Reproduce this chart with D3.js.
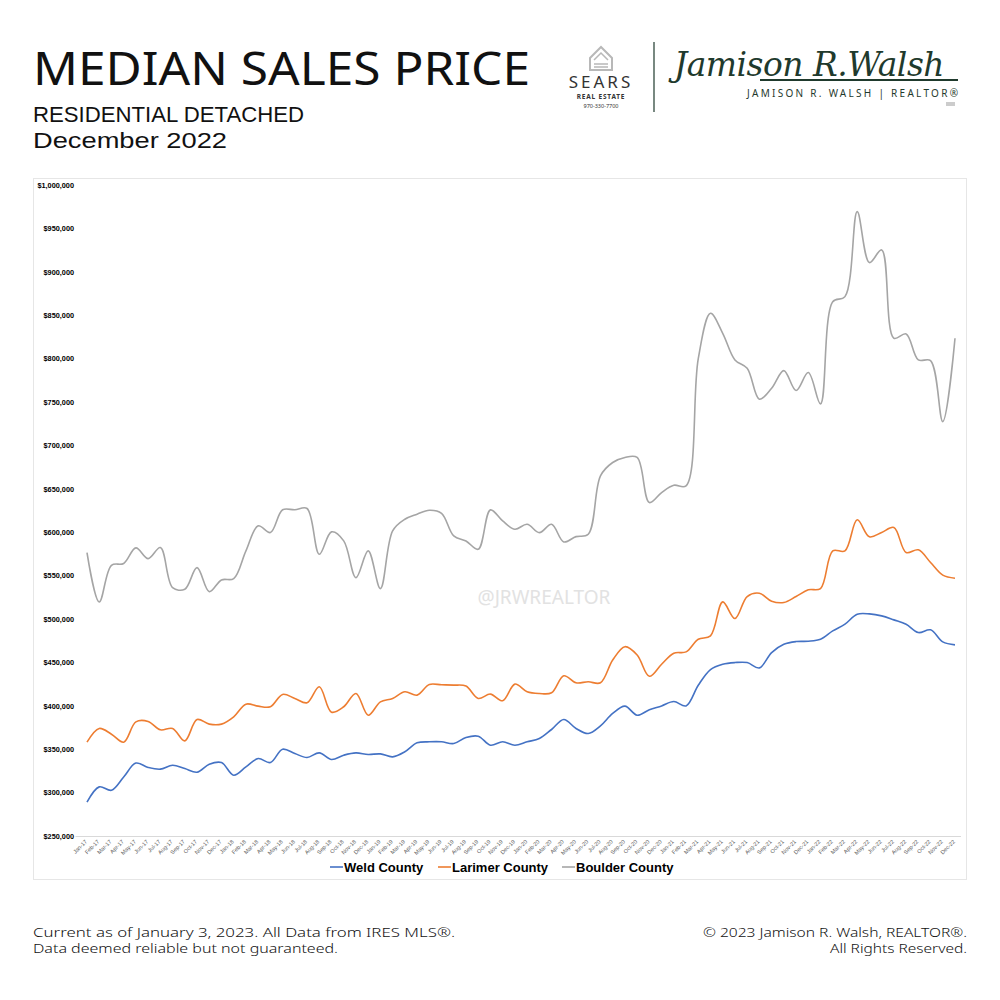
<!DOCTYPE html>
<html>
<head>
<meta charset="utf-8">
<script src="https://cdn.jsdelivr.net/npm/d3@7/dist/d3.min.js"></script>
<style>
  html, body { margin: 0; padding: 0; background: #fff; }
  svg { display: block; }
</style>
</head>
<body>
<svg id="chart" width="1000" height="1000"></svg>
<script>
// ---------------- DATA ----------------
const monthNames = ["Jan","Feb","Mar","Apr","May","Jun","Jul","Aug","Sep","Oct","Nov","Dec"];
const years = ["17","18","19","20","21","22"];
const months = years.flatMap(y => monthNames.map(m => m + "-" + y));

const weld = [
  289, 306.6, 302.7, 318, 334, 329, 327, 331.5, 327.7, 323.5, 332.7, 334.6,
  320, 329.6, 339.2, 334.6, 350, 345, 340.4, 345.8, 338.1, 343.1, 345.8, 343.9,
  344.6, 341.2, 347, 357.3, 358.5, 358.5, 356.5, 363.5, 365, 354.6, 358.5, 354.6,
  358.5, 362.3, 372.7, 384.2, 373.9, 368.1, 376.9, 391.2, 399.6, 389.2, 395.5, 399.9,
  404.9, 399.9, 423.7, 441.8, 447.9, 449.8, 449.8, 443.7, 461.3, 470.9, 474, 474.4,
  476.7, 486.3, 494, 505.5, 505.9, 503.6, 499, 494, 484.4, 487.5, 473.6, 470.2
].map(v => v * 1000);

const larimer = [
  358.1, 373.9, 367.3, 358.1, 381.5, 382, 372.3, 373.9, 359.6, 384.2, 378.9, 378.9,
  387.3, 401.9, 399.6, 398.9, 413.1, 408.5, 403.5, 421.9, 392.7, 398.9, 414.2, 389.2,
  404.6, 408.5, 416.2, 412.3, 424.6, 424.2, 423.8, 422.7, 408.5, 413.5, 405.8, 425,
  416.2, 414.2, 415, 434.6, 426.5, 427.7, 426.5, 452.7, 468.1, 458.5, 434, 447.9,
  460.6, 462.1, 476.7, 480.6, 519.7, 500.5, 525.9, 529.7, 520.5, 519, 525.9, 533.6,
  535.1, 578.5, 578.5, 614.3, 594.7, 599.7, 605.4, 576.6, 579.7, 565.1, 550.5, 547
].map(v => v * 1000);

const boulder = [
  576.5, 519.6, 561.9, 564, 581.9, 569.6, 582.3, 536.2, 534.2, 559.2, 531.5, 545,
  546.5, 578.5, 607.3, 599.6, 625.8, 625.8, 627.3, 574.6, 600.4, 590, 547.7, 578.5,
  535, 601.5, 614.9, 620.7, 625.3, 621.8, 595.7, 589.9, 580.3, 625.7, 613, 603.4,
  609.1, 599.5, 609.1, 588.8, 594.9, 597.6, 664.9, 680.3, 686.1, 686.1, 634.2, 645.7,
  654.1, 653.4, 800, 852.2, 829.2, 798.5, 788.9, 753.2, 765.9, 786.2, 763.2, 783.9,
  747.8, 865.6, 871.4, 969.3, 910.6, 925.2, 823.4, 828.4, 798.5, 797.7, 727.4, 823.4
].map(v => v * 1000);

const seriesNames = ["Weld County", "Larimer County", "Boulder County"];
const seriesColors = ["#4472C4", "#ED7D31", "#A5A5A5"];
const yTicks = [250000,300000,350000,400000,450000,500000,550000,600000,650000,700000,750000,800000,850000,900000,950000,1000000];

// ---------------- DRAW ----------------
const svg = d3.select("#chart");
const font = "'Noto Sans', 'Open Sans', sans-serif";
const sans = "'Liberation Sans', Arial, sans-serif";
const green = "#1f3a2d";

function fitWidth(sel, w) {
  const cur = sel.node().getComputedTextLength();
  const fs = parseFloat(sel.attr("font-size"));
  sel.attr("font-size", (fs * w / cur).toFixed(2));
}

// Header
svg.append("text").attr("x", 33).attr("y", 85).attr("font-family", font)
  .attr("font-weight", 400).attr("font-size", 46).attr("fill", "#111")
  .attr("textLength", 497).attr("lengthAdjust", "spacingAndGlyphs").text("MEDIAN SALES PRICE");
svg.append("text").attr("x", 33).attr("y", 122).attr("font-family", sans)
  .attr("font-size", 22.5).attr("fill", "#111")
  .attr("textLength", 271).attr("lengthAdjust", "spacingAndGlyphs").text("RESIDENTIAL DETACHED");
svg.append("text").attr("x", 33).attr("y", 148).attr("font-family", sans)
  .attr("font-size", 22.5).attr("fill", "#111")
  .attr("textLength", 194).attr("lengthAdjust", "spacingAndGlyphs").text("December 2022");

// Sears logo
const logo = svg.append("g");
logo.append("path").attr("d", "M590,58 L601,47 L612,58 L612,70 L590,70 Z").attr("fill", "none")
  .attr("stroke", "#b8b8b8").attr("stroke-width", 2);
logo.append("path").attr("d", "M594,60 L601,53 L608,60 M594,64 L608,64 M594,67 L608,67").attr("fill", "none")
  .attr("stroke", "#b8b8b8").attr("stroke-width", 1.5);
logo.append("text").attr("x", 601).attr("y", 88).attr("text-anchor", "middle").attr("font-family", font)
  .attr("font-size", 17).attr("letter-spacing", 3).attr("fill", "#333").text("SEARS");
logo.append("text").attr("x", 601).attr("y", 99).attr("text-anchor", "middle").attr("font-family", font)
  .attr("font-size", 6.5).attr("font-weight", 700).attr("letter-spacing", 0.8).attr("fill", "#333").text("REAL ESTATE");
logo.append("text").attr("x", 601).attr("y", 108).attr("text-anchor", "middle").attr("font-family", font)
  .attr("font-size", 5.5).attr("fill", "#333").text("970-330-7700");
logo.append("line").attr("x1", 654).attr("x2", 654).attr("y1", 42).attr("y2", 112)
  .attr("stroke", green).attr("stroke-width", 1.2);

// Signature
svg.append("text").attr("x", 674).attr("y", 76).attr("font-family", "'DejaVu Serif', serif")
  .attr("font-style", "italic").attr("font-size", 34).attr("fill", green).attr("letter-spacing", -0.5)
  .attr("textLength", 270).attr("lengthAdjust", "spacingAndGlyphs")
  .text("Jamison R.Walsh");
svg.append("line").attr("x1", 760).attr("x2", 958).attr("y1", 80).attr("y2", 80)
  .attr("stroke", green).attr("stroke-width", 2);
svg.append("text").attr("x", 747).attr("y", 97).attr("font-family", font)
  .attr("font-size", 10).attr("fill", green)
  .attr("textLength", 211).attr("lengthAdjust", "spacing").text("JAMISON R. WALSH | REALTOR®");
svg.append("rect").attr("x", 946).attr("y", 102).attr("width", 9).attr("height", 4).attr("fill", "#ccc");

// Chart frame
svg.append("rect").attr("x", 33.5).attr("y", 178.5).attr("width", 933).attr("height", 701)
  .attr("fill", "#fff").attr("stroke", "#e6e6e6").attr("stroke-width", 1);

const x = d3.scalePoint().domain(months).range([87, 955]);
const y = d3.scaleLinear().domain([250000, 1000000]).range([836, 185]);

// Watermark
const wm = svg.append("text").attr("x", 544).attr("y", 604).attr("text-anchor", "middle")
  .attr("font-family", font).attr("font-size", 19).attr("fill", "#e2e2e2").text("@JRWREALTOR");
fitWidth(wm, 133);

// Y axis
const yAxis = svg.append("g").attr("transform", "translate(75,0)")
  .call(d3.axisLeft(y).tickValues(yTicks).tickSize(0).tickPadding(1).tickFormat(d3.format("$,")));
yAxis.select(".domain").remove();
yAxis.selectAll("text").attr("font-family", sans)
  .attr("font-weight", 700).attr("font-size", 7.3).attr("fill", "#000");

// X axis
const xAxis = svg.append("g").attr("transform", "translate(0,836)")
  .call(d3.axisBottom(x).tickSize(0).tickPadding(0));
xAxis.select(".domain").attr("stroke", "#d9d9d9").attr("d", "M75.5,0.5H961");
xAxis.selectAll("text").attr("font-family", sans)
  .attr("font-size", 5.6).attr("fill", "#595959")
  .attr("text-anchor", "end").attr("dy", "0").attr("y", 0)
  .attr("transform", "translate(0,6) rotate(-45)");

// Lines
const line = d3.line().x((d, i) => x(months[i])).y(d => y(d)).curve(d3.curveCatmullRom.alpha(0.5));
[weld, larimer, boulder].forEach((s, k) => {
  svg.append("path").datum(s).attr("d", line).attr("fill", "none")
    .attr("stroke", seriesColors[k]).attr("stroke-width", 1.6).attr("stroke-linejoin", "round");
});

// Legend
const legendX = [330, 438, 562];
seriesNames.forEach((n, k) => {
  svg.append("line").attr("x1", legendX[k]).attr("x2", legendX[k] + 13).attr("y1", 867).attr("y2", 867)
    .attr("stroke", seriesColors[k]).attr("stroke-width", 1.6);
  svg.append("text").attr("x", legendX[k] + 14).attr("y", 872).attr("font-family", sans)
    .attr("font-weight", 700).attr("font-size", 13).attr("fill", "#000").text(n);
});

// Footer
const footer = [
  { t: "Current as of January 3, 2023. All Data from IRES MLS®.", x: 33, y: 937, w: 422, a: "start" },
  { t: "Data deemed reliable but not guaranteed.", x: 33, y: 953, w: 305, a: "start" },
  { t: "© 2023 Jamison R. Walsh, REALTOR®.", x: 967, y: 937, w: 264, a: "end" },
  { t: "All Rights Reserved.", x: 967, y: 953, w: 137, a: "end" }
];
footer.forEach(f => {
  svg.append("text").attr("x", f.a === "end" ? f.x - f.w : f.x).attr("y", f.y)
    .attr("font-family", font).attr("font-weight", 300).attr("font-size", 13).attr("fill", "#111")
    .attr("textLength", f.w).attr("lengthAdjust", "spacingAndGlyphs").text(f.t);
});
</script>
</body>
</html>
